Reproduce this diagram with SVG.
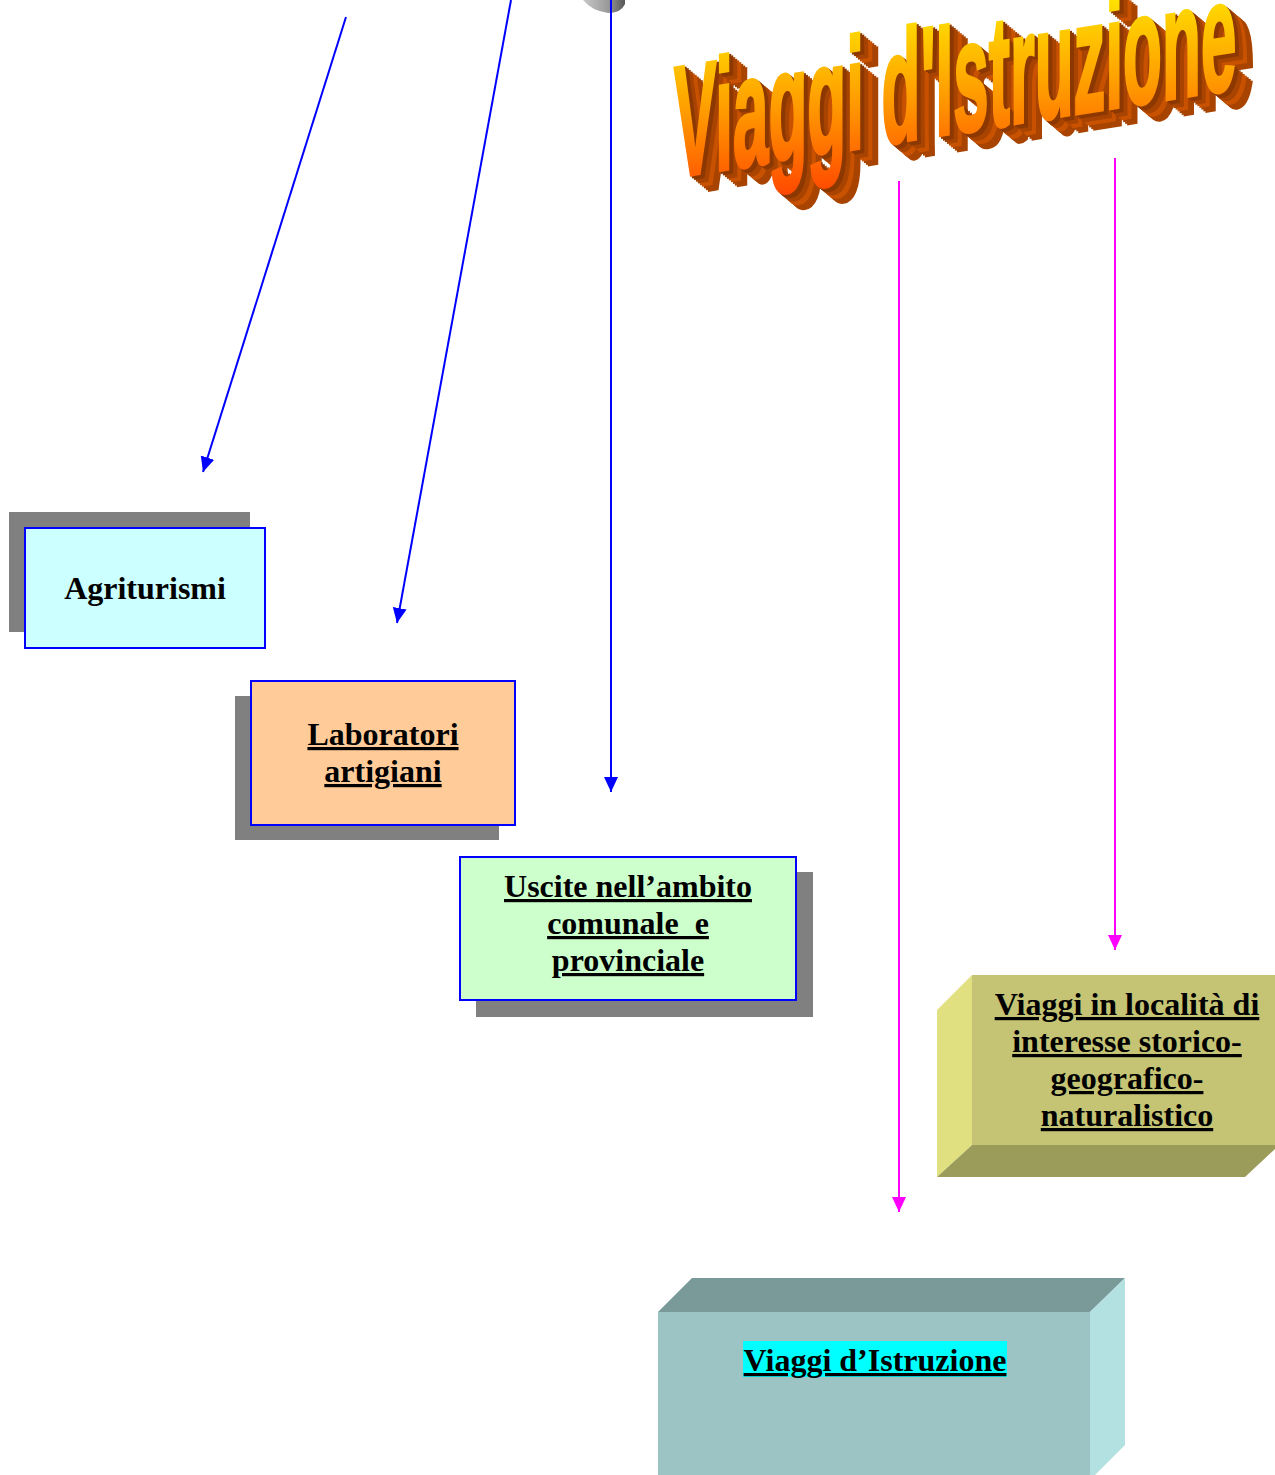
<svg xmlns="http://www.w3.org/2000/svg" xmlns:xlink="http://www.w3.org/1999/xlink" width="1275" height="1475" viewBox="0 0 1275 1475">
<style>
.t{font-family:"Liberation Serif","Times New Roman",serif;font-weight:bold;font-size:32px;fill:#000;text-anchor:middle}
.u{text-decoration:underline}
.blue{stroke:#0000FF;stroke-width:2;fill:none}
.mag{stroke:#FF00FF;stroke-width:2;fill:none}
.shadow{fill:#808080}
.wa{font-family:"Liberation Sans",Arial,sans-serif;font-weight:bold;font-size:158px}
.dk{fill:#A84400;stroke:#A84400;stroke-width:4}
.md{fill:#C85200;stroke:#C85200;stroke-width:4}
.bk{fill:#8C3800;stroke:#8C3800;stroke-width:4}
</style>
<defs>
<marker id="ab" markerWidth="16" markerHeight="16" refX="15" refY="7" orient="auto" markerUnits="userSpaceOnUse"><path d="M0,0 L15,7 L0,14 Z" fill="#0000FF"/></marker>
<marker id="am" markerWidth="16" markerHeight="16" refX="15" refY="7" orient="auto" markerUnits="userSpaceOnUse"><path d="M0,0 L15,7 L0,14 Z" fill="#FF00FF"/></marker>
<linearGradient id="wag" x1="0" y1="1" x2="0.3" y2="0">
<stop offset="0" stop-color="#FF4000"/>
<stop offset="0.5" stop-color="#FF9A00"/>
<stop offset="1" stop-color="#FFE800"/>
</linearGradient>
<linearGradient id="gr" x1="0" y1="0" x2="1" y2="0">
<stop offset="0" stop-color="#c8c8c8"/>
<stop offset="0.6" stop-color="#999"/>
<stop offset="1" stop-color="#555"/>
</linearGradient>
<text id="wat" class="wa" x="0" y="0">Viaggi d'Istruzione</text>
</defs>

<g id="top-shape">
<path d="M583,0 Q592,11 608,13 Q621,13 625,4 L625,0 Z" fill="url(#gr)"/>
</g>

<g id="wordart" transform="skewY(-9)">
<use href="#wat" xlink:href="#wat" class="dk" transform="translate(692,302) scale(0.403,1)"/>
<use href="#wat" xlink:href="#wat" class="dk" transform="translate(690,300) scale(0.403,1)"/>
<use href="#wat" xlink:href="#wat" class="dk" transform="translate(688,298) scale(0.403,1)"/>
<use href="#wat" xlink:href="#wat" class="md" transform="translate(686,296) scale(0.403,1)"/>
<use href="#wat" xlink:href="#wat" class="md" transform="translate(684,294) scale(0.403,1)"/>
<use href="#wat" xlink:href="#wat" class="dk" transform="translate(682,292) scale(0.403,1)"/>
<use href="#wat" xlink:href="#wat" class="dk" transform="translate(680,290) scale(0.403,1)"/>
<use href="#wat" xlink:href="#wat" class="bk" transform="translate(678,288) scale(0.403,1)"/>
<use href="#wat" xlink:href="#wat" class="bk" transform="translate(676,286) scale(0.403,1)"/>
<use href="#wat" xlink:href="#wat" fill="url(#wag)" stroke="url(#wag)" stroke-width="4" transform="translate(674,284) scale(0.403,1)"/>
</g>

<g id="connectors">
<line class="blue" x1="346" y1="17" x2="203" y2="472" marker-end="url(#ab)"/>
<line class="blue" x1="511" y1="0" x2="397" y2="623" marker-end="url(#ab)"/>
<line class="blue" x1="611" y1="0" x2="611" y2="792" marker-end="url(#ab)"/>
<line class="mag" x1="899" y1="181" x2="899" y2="1212" marker-end="url(#am)"/>
<line class="mag" x1="1115" y1="158" x2="1115" y2="950" marker-end="url(#am)"/>
</g>

<g id="agriturismi">
<rect class="shadow" x="9" y="512" width="241" height="120"/>
<rect x="25" y="528" width="240" height="120" fill="#CCFFFF" stroke="#0000FF" stroke-width="2"/>
<text class="t" x="145" y="599">Agriturismi</text>
</g>

<g id="laboratori">
<rect class="shadow" x="235" y="696" width="264" height="144"/>
<rect x="251" y="681" width="264" height="144" fill="#FFCC99" stroke="#0000FF" stroke-width="2"/>
<text class="t u" x="383" y="745">Laboratori</text>
<text class="t u" x="383" y="782">artigiani</text>
</g>

<g id="uscite">
<rect class="shadow" x="476" y="872" width="337" height="145"/>
<rect x="460" y="857" width="336" height="143" fill="#CCFFCC" stroke="#0000FF" stroke-width="2"/>
<text class="t u" x="628" y="897">Uscite nell’ambito</text>
<text class="t u" x="628" y="934" xml:space="preserve">comunale  e</text>
<text class="t u" x="628" y="971">provinciale</text>
</g>

<g id="viaggi-localita">
<rect x="972" y="975" width="303" height="170" fill="#C4C474"/>
<polygon points="937,1010 972,975 972,1145 937,1177" fill="#E0E080"/>
<polygon points="937,1177 972,1145 1275,1145 1275,1149 1245,1177" fill="#9C9C5A"/>
<text class="t u" x="1127" y="1015">Viaggi in località di</text>
<text class="t u" x="1127" y="1052">interesse storico-</text>
<text class="t u" x="1127" y="1089">geografico-</text>
<text class="t u" x="1127" y="1126">naturalistico</text>
</g>

<g id="viaggi-istruzione">
<rect x="658" y="1312" width="432" height="170" fill="#9CC4C4"/>
<polygon points="658,1312 692,1278 1125,1278 1090,1312" fill="#7A9A9A"/>
<polygon points="1090,1312 1125,1278 1125,1445 1090,1480" fill="#B3E0E0"/>
<rect x="743" y="1341" width="264" height="36" fill="#00FFFF"/>
<text class="t u" x="875" y="1371">Viaggi d’Istruzione</text>
</g>
</svg>
